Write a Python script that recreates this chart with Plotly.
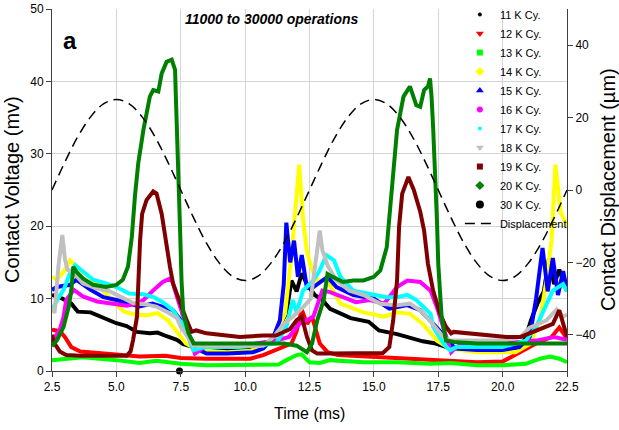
import plotly.graph_objects as go

# ---- dados (tempo em ms, tensao em mV) ----
T11 = [2.5, 2.9, 3.25, 3.5, 4.0, 4.5, 5.0, 5.4, 5.8, 6.3, 6.6, 6.95, 7.35, 7.6, 8.0, 9.0, 10.0, 10.7, 11.0, 11.3,
       11.6, 11.8, 12.0, 12.2, 12.4, 12.7, 13.0, 13.3, 13.7, 14.1, 14.8, 15.2, 15.9, 16.4, 16.9, 17.4, 18.0, 19.0,
       20.0, 20.7, 20.9, 21.1, 21.35, 21.6, 21.8, 22.0, 22.2, 22.5]
V11 = [10.5, 10.0, 9.3, 8.2, 8.1, 7.3, 6.6, 6.2, 5.4, 5.2, 5.3, 4.8, 4.3, 3.7, 3.3, 3.0, 2.9, 3.2, 4.2, 6.0,
       8.0, 12.5, 11.0, 13.5, 12.0, 10.5, 9.8, 8.6, 8.0, 7.3, 6.8, 5.6, 5.1, 4.6, 4.1, 3.8, 3.1, 3.0,
       3.0, 3.3, 4.7, 7.0, 9.3, 11.0, 15.5, 12.0, 14.0, 11.0]

T12 = [2.5, 2.8, 3.0, 3.25, 3.6, 4.6, 5.9, 6.9, 7.5, 8.5, 9.8, 10.2, 10.7, 11.3, 11.8, 12.0, 12.2, 12.4, 12.6,
       12.9, 13.2, 13.6, 14.6, 15.9, 17.2, 18.0, 19.0, 20.0, 20.6, 21.3, 21.9, 22.2, 22.5]
V12 = [5.7, 5.5, 4.7, 3.3, 2.7, 2.35, 2.0, 2.1, 1.8, 1.7, 1.6, 1.7, 2.2, 3.1, 3.8, 5.5, 8.5, 6.5, 7.5,
       3.8, 2.6, 2.2, 2.0, 1.7, 1.5, 1.3, 1.2, 1.3, 2.4, 3.8, 4.7, 6.0, 4.5]

T13 = [2.5, 3.3, 3.7, 5.0, 5.9, 6.55, 7.5, 8.5, 9.5, 10.5, 11.3, 11.6, 12.0, 12.2, 12.5, 12.9, 13.3, 14.6,
       15.9, 17.2, 18.0, 19.0, 20.0, 20.9, 21.45, 21.85, 22.2, 22.5]
V13 = [1.5, 1.7, 1.9, 1.5, 1.1, 1.4, 1.0, 0.8, 0.8, 0.8, 0.9, 1.5, 2.2, 2.3, 1.2, 1.1, 1.5, 1.2,
       1.2, 1.0, 1.1, 0.8, 0.8, 1.0, 1.7, 2.0, 1.7, 1.2]

T14 = [2.5, 2.7, 2.95, 3.2, 3.45, 3.85, 4.25, 4.9, 5.3, 5.7, 6.2, 6.6, 7.0, 7.3, 7.7, 8.2, 9.3, 10.2, 10.7,
       11.2, 11.55, 11.8, 11.95, 12.1, 12.25, 12.4, 12.55, 12.8, 13.2, 13.7, 14.6, 15.4, 15.9, 16.4, 16.9,
       17.45, 17.95, 19.0, 20.5, 21.05, 21.45, 21.7, 21.9, 22.05, 22.25, 22.5]
V14 = [13.0, 12.6, 13.7, 15.3, 14.4, 13.3, 12.0, 9.5, 8.2, 7.8, 7.7, 8.0, 7.0, 5.7, 3.8, 2.85, 2.6, 2.8, 3.3,
       5.2, 7.9, 16.0, 22.0, 28.5, 21.0, 16.5, 14.5, 12.5, 12.5, 9.3, 8.1, 7.5, 8.1, 7.9, 6.5,
       4.2, 3.1, 2.6, 2.6, 3.7, 7.0, 12.5, 18.0, 28.5, 22.0, 20.0]

T15 = [2.5, 2.7, 3.2, 3.45, 4.0, 4.5, 5.0, 5.5, 5.9, 6.4, 6.7, 7.2, 7.5, 7.85, 8.1, 8.5, 9.3, 10.3, 10.7,
       11.1, 11.35, 11.5, 11.6, 11.75, 11.9, 12.05, 12.2, 12.4, 12.65, 13.2, 13.55, 14.2, 15.0, 15.6, 16.3,
       16.8, 17.2, 17.55, 17.95, 18.2, 19.0, 20.0, 20.65, 21.05, 21.3, 21.55, 21.75, 21.95, 22.15, 22.35, 22.5]
V15 = [11.2, 11.6, 11.9, 12.6, 11.2, 10.2, 9.8, 9.3, 8.9, 9.3, 9.0, 8.4, 7.0, 4.7, 3.1, 2.4, 2.4, 2.6, 3.1,
       4.7, 7.0, 12.0, 20.5, 15.0, 18.0, 13.0, 16.0, 11.5, 11.6, 13.0, 11.6, 10.5, 10.0, 8.6, 9.1,
       8.4, 7.0, 5.6, 3.8, 3.1, 2.9, 2.9, 3.3, 4.7, 10.0, 17.0, 11.0, 15.6, 10.5, 13.8, 11.2]

T16 = [2.55, 2.8, 2.95, 3.05, 3.35, 3.7, 4.25, 4.75, 5.4, 5.8, 6.05, 6.45, 6.8, 7.1, 7.2, 7.35, 7.6, 7.85,
       8.05, 8.25, 8.5, 9.8, 10.7, 11.2, 11.7, 12.1, 12.4, 12.65, 13.0, 13.3, 13.8, 14.3, 14.85, 15.4, 15.9,
       16.3, 16.8, 17.2, 17.45, 17.8, 18.0, 18.2, 18.5, 20.0, 21.3, 22.0, 22.5]
V16 = [4.3, 5.7, 7.5, 9.8, 11.2, 10.3, 9.6, 9.3, 9.0, 9.3, 9.8, 11.2, 12.3, 12.8, 12.1, 10.3, 7.5, 4.2,
       2.4, 2.9, 3.5, 3.5, 4.0, 4.2, 4.7, 6.5, 7.0, 7.5, 11.1, 10.9, 10.2, 9.5, 9.8, 9.3, 11.6,
       12.5, 12.3, 11.1, 8.8, 4.7, 2.6, 3.3, 3.8, 3.8, 4.2, 4.7, 4.3]

T17 = [2.5, 2.7, 2.95, 3.2, 3.4, 3.7, 4.1, 4.6, 5.0, 5.5, 6.05, 6.45, 6.8, 7.2, 7.45, 7.6, 7.85, 8.0, 8.4,
       9.8, 11.2, 11.6, 11.85, 12.0, 12.25, 12.65, 12.9, 13.15, 13.45, 13.7, 14.2, 14.85, 15.5, 15.9, 16.3,
       16.65, 17.2, 17.3, 17.7, 17.95, 18.2, 20.0, 20.9, 21.3, 21.7, 21.95, 22.35, 22.5]
V17 = [8.4, 9.8, 11.2, 13.5, 14.6, 13.7, 12.6, 12.1, 11.6, 10.7, 10.6, 10.2, 9.5, 8.4, 7.0, 6.5, 4.2, 2.85, 3.3,
       3.3, 3.8, 6.1, 9.8, 8.1, 11.1, 12.5, 13.9, 16.0, 15.3, 13.0, 11.1, 10.7, 10.2, 10.2, 10.5,
       9.8, 7.9, 6.1, 3.8, 2.85, 3.3, 3.3, 4.2, 6.1, 9.3, 11.1, 12.0, 11.0]

T18 = [2.5, 2.6, 2.75, 2.9, 3.0, 3.1, 3.35, 3.7, 4.25, 4.75, 5.25, 5.65, 6.15, 6.55, 6.95, 7.35, 7.5, 7.75,
       8.0, 8.5, 9.8, 10.7, 11.1, 11.5, 11.85, 12.25, 12.55, 12.75, 12.9, 13.0, 13.2, 13.55, 14.05, 14.6,
       15.25, 15.9, 16.4, 16.9, 17.3, 17.7, 17.95, 20.0, 20.7, 21.05, 21.45, 21.7, 22.1, 22.35, 22.5]
V18 = [8.9, 8.0, 14.5, 18.8, 15.5, 14.0, 13.5, 12.1, 11.4, 11.0, 10.1, 9.4, 9.2, 8.9, 8.2, 7.3, 6.1, 4.7,
       3.5, 3.5, 3.5, 3.5, 4.7, 6.5, 7.5, 8.8, 10.0, 16.0, 19.4, 16.7, 14.6, 12.5, 11.1, 10.5,
       9.3, 9.1, 9.3, 8.1, 6.5, 4.7, 4.2, 4.2, 4.7, 6.0, 6.6, 7.0, 8.5, 7.5, 7.8]

T19 = [2.5, 2.6, 2.8, 3.05, 3.6, 4.6, 5.4, 5.55, 5.65, 5.8, 5.85, 5.92, 6.0, 6.17, 6.43, 6.56, 6.76, 6.95,
       7.08, 7.2, 7.47, 7.73, 7.92, 8.1, 8.5, 9.3, 9.8, 10.7, 11.2, 11.75, 12.0, 12.2, 12.4, 12.6, 12.8,
       13.3, 14.6, 15.35, 15.6, 15.75, 15.9, 15.98, 16.1, 16.34, 16.55, 16.8, 16.95, 17.1, 17.3, 17.57,
       17.8, 18.0, 18.1, 18.7, 19.4, 20.15, 20.7, 21.2, 21.6, 21.95, 22.2, 22.4, 22.5]
V19 = [5.0, 3.8, 2.7, 2.2, 2.1, 2.1, 2.1, 2.7, 4.3, 7.5, 12.0, 18.0, 21.7, 23.6, 24.8, 24.5, 21.7, 17.1,
       14.4, 12.1, 9.3, 7.0, 5.4, 5.6, 5.2, 4.9, 4.7, 4.9, 4.9, 5.8, 7.0, 7.5, 4.7, 2.85, 2.4,
       2.4, 2.4, 2.5, 3.3, 7.0, 12.5, 20.0, 24.5, 26.8, 25.0, 22.0, 19.4, 14.8, 11.1, 7.9,
       6.1, 5.2, 5.4, 5.2, 4.9, 4.7, 4.7, 5.4, 6.1, 6.5, 8.4, 6.1, 4.7]

T20 = [2.5, 2.7, 2.95, 3.15, 3.25, 3.33, 3.45, 3.7, 4.1, 4.6, 5.0, 5.25, 5.45, 5.6, 5.72, 5.85, 6.05, 6.3,
       6.43, 6.63, 6.76, 6.95, 7.15, 7.28, 7.31, 7.34, 7.38, 7.42, 7.47, 7.53, 7.6, 7.8, 8.0, 8.5, 10.0,
       11.5, 12.0, 12.4, 12.6, 12.8, 13.05, 13.2, 13.4, 13.8, 14.2, 14.6, 15.0, 15.25, 15.5, 15.6, 15.75,
       15.9, 16.15, 16.4, 16.65, 16.8, 16.95, 17.1, 17.18, 17.24, 17.3, 17.35, 17.4, 17.45, 17.5, 17.63,
       17.8, 18.1, 19.0, 20.0, 21.0, 22.0, 22.5]
V20 = [3.4, 4.3, 6.1, 8.9, 11.2, 14.4, 13.7, 12.8, 11.9, 11.6, 11.9, 12.6, 14.4, 18.5, 24.1, 28.7, 33.3, 37.9,
       38.8, 38.6, 41.1, 42.7, 43.0, 41.6, 37.9, 33.7, 29.6, 25.5, 20.0, 12.5, 7.9, 5.2, 3.8, 3.8, 3.8,
       3.8, 3.5, 2.6, 3.8, 7.0, 9.8, 13.4, 13.0, 12.3, 12.5, 12.5, 13.0, 13.9, 17.1, 21.0, 26.4,
       33.3, 37.9, 39.3, 36.7, 36.5, 38.8, 39.3, 40.4, 37.9, 33.7, 30.1, 26.8, 20.8, 14.8, 7.5,
       4.2, 4.0, 3.8, 3.8, 3.8, 3.8, 3.8]

T30 = [7.45]
V30 = [0.0]

# deslocamento (eixo da direita, um)
TD = [2.5, 3.0, 3.5, 4.0, 4.5, 5.0, 5.5, 6.0, 6.5, 7.0, 7.5, 8.0, 8.5, 9.0, 9.5, 10.0, 10.5, 11.0, 11.5, 12.0,
      12.5, 13.0, 13.5, 14.0, 14.5, 15.0, 15.5, 16.0, 16.5, 17.0, 17.5, 18.0, 18.5, 19.0, 19.5, 20.0, 20.5,
      21.0, 21.5, 22.0, 22.5]
VD = [0, 7.7, 14.7, 20.2, 23.8, 25, 23.8, 20.2, 14.7, 7.7, 0, -7.7, -14.7, -20.2, -23.8, -25, -23.8, -20.2,
      -14.7, -7.7, 0, 7.7, 14.7, 20.2, 23.8, 25, 23.8, 20.2, 14.7, 7.7, 0, -7.7, -14.7, -20.2, -23.8, -25,
      -23.8, -20.2, -14.7, -7.7, 0]

X_TICKS = [2.5, 5.0, 7.5, 10.0, 12.5, 15.0, 17.5, 20.0, 22.5]

# nome, x, y, cor, simbolo, tamanho do marcador na legenda
series = [
    ('11 K Cy.', T11, V11, '#000000', 'circle', 4),
    ('12 K Cy.', T12, V12, '#ff0000', 'triangle-down', 7),
    ('13 K Cy.', T13, V13, '#00ff00', 'square', 6),
    ('14 K Cy.', T14, V14, '#ffff00', 'diamond', 7),
    ('15 K Cy.', T15, V15, '#0000ff', 'triangle-up', 7),
    ('16 K Cy.', T16, V16, '#ff00ff', 'circle', 6),
    ('17 K Cy.', T17, V17, '#00ffff', 'circle', 4),
    ('18 K Cy.', T18, V18, '#c0c0c0', 'triangle-down', 7),
    ('19 K Cy.', T19, V19, '#800000', 'square', 6),
    ('20 K Cy.', T20, V20, '#008000', 'diamond', 7),
]

fig = go.Figure()

# curvas (sem legenda)
for nome, xs, ys, cor, simb, tam in series:
    fig.add_trace(go.Scatter(x=xs, y=ys, mode='lines', showlegend=False,
                             line=dict(color=cor, width=4), hoverinfo='skip'))

fig.add_trace(go.Scatter(x=T30, y=V30, mode='markers', showlegend=False, cliponaxis=False,
                         marker=dict(color='black', size=7, symbol='circle')))

# entradas de legenda so com marcador
for nome, xs, ys, cor, simb, tam in series:
    fig.add_trace(go.Scatter(x=[None], y=[None], mode='markers', name=nome,
                             marker=dict(color=cor, size=tam, symbol=simb)))
fig.add_trace(go.Scatter(x=[None], y=[None], mode='markers', name='30 K Cy.',
                         marker=dict(color='black', size=8, symbol='circle')))

fig.add_trace(go.Scatter(x=TD, y=VD, mode='lines', name='Displacement', yaxis='y2',
                         line=dict(color='black', width=1.5, dash='10px,6px', shape='spline')))

grid = '#d4d4d4'
fig.update_layout(
    width=619, height=430,
    margin=dict(l=52, r=52, t=9, b=59, autoexpand=False),
    plot_bgcolor='white', paper_bgcolor='white',
    font=dict(family='Liberation Sans, Arial, sans-serif', size=12, color='black'),
    xaxis=dict(range=[2.5, 22.5], tickvals=X_TICKS, tickformat='.1f', showgrid=True, gridcolor=grid,
               showline=True, linecolor='#404040', ticks='outside', ticklen=5, tickcolor='#404040',
               zeroline=False, automargin=False),
    yaxis=dict(range=[0, 50], dtick=10, showgrid=True, gridcolor=grid, showline=True,
               linecolor='#404040', ticks='outside', ticklen=5, tickcolor='#404040', zeroline=False,
               automargin=False),
    yaxis2=dict(range=[-50, 50], tickvals=[-40, -20, 0, 20, 40], overlaying='y', side='right',
                showgrid=False, showline=True, linecolor='#404040', ticks='outside', ticklen=5,
                tickcolor='#404040', zeroline=False, automargin=False),
    legend=dict(x=0.792, y=0.696, xanchor='left', yanchor='middle', bgcolor='rgba(0,0,0,0)',
                font=dict(size=11), tracegroupgap=0, itemwidth=30),
)

fig.add_annotation(text='<b><i>11000 to 30000 operations</i></b>', xref='paper', yref='paper',
                   x=0.426, y=0.972, showarrow=False, font=dict(size=14),
                   xanchor='center', yanchor='middle')
fig.add_annotation(text='<b>a</b>', xref='paper', yref='paper', x=0.035, y=0.912, showarrow=False,
                   font=dict(size=24), xanchor='center', yanchor='middle')
fig.add_annotation(text='Time (ms)', xref='paper', yref='paper', x=0.5, y=0, yshift=-42,
                   showarrow=False, font=dict(size=16), xanchor='center', yanchor='middle')
fig.add_annotation(text='Contact Voltage (mv)', xref='paper', yref='paper', x=0, xshift=-40, y=0.5,
                   showarrow=False, textangle=-90, font=dict(size=20), xanchor='center', yanchor='middle')
fig.add_annotation(text='Contact Displacement (µm)', xref='paper', yref='paper', x=1, xshift=41, y=0.5,
                   showarrow=False, textangle=-90, font=dict(size=20), xanchor='center', yanchor='middle')

# sem margem no body para o grafico ficar colado ao canto da janela
fig.write_html("out.html", config={'displayModeBar': False},
               post_script="document.body.style.margin='0px';")
